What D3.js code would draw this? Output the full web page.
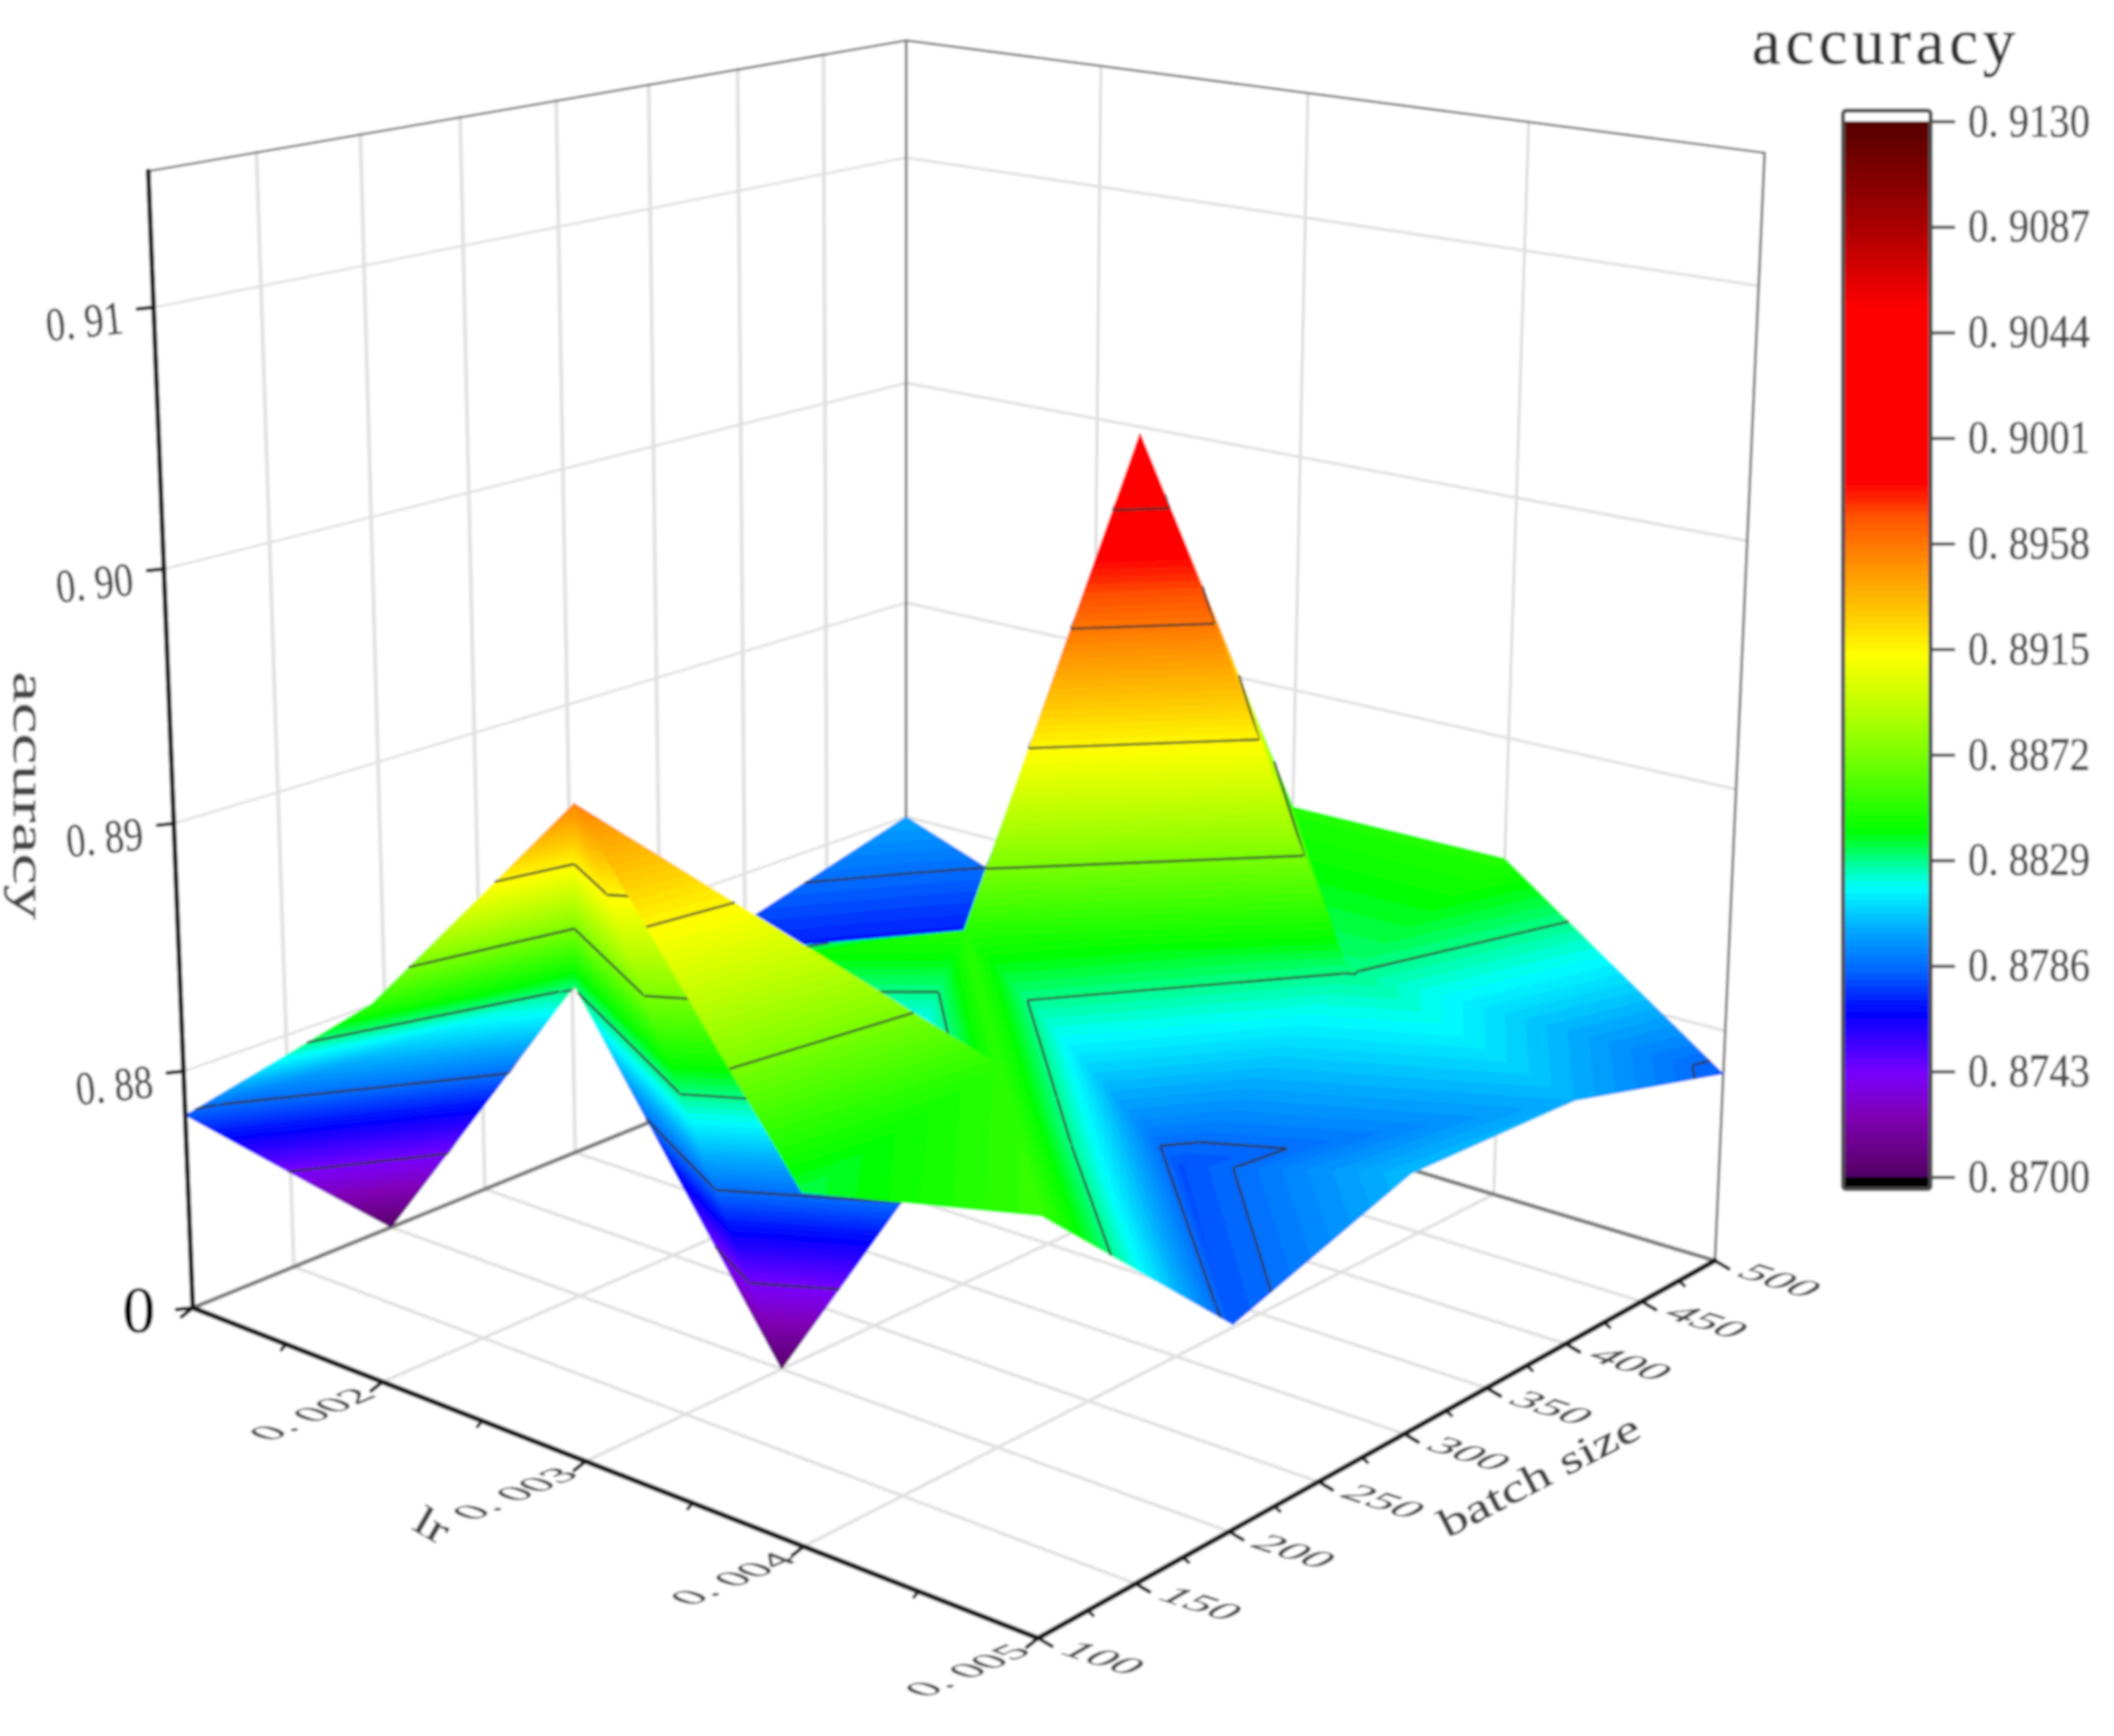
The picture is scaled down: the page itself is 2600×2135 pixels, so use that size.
<!DOCTYPE html>
<html>
<head>
<meta charset="utf-8">
<script src="https://cdn.jsdelivr.net/npm/d3@7/dist/d3.min.js"></script>
<style>html,body{margin:0;padding:0;background:#fff}svg{display:block}</style>
</head>
<body>
<svg id="chart" width="2600" height="2135" viewBox="0 0 2600 2135"></svg>
<script>
// ---------- data ----------
const lrValues = [0.001, 0.002, 0.003, 0.004, 0.005];
const batchValues = [100, 200, 300, 400, 500];
const accLr001 = [0.8782, 0.8702, 0.8780, 0.8778, 0.8800];
const accLr002 = [0.8853, 0.8831, 0.8818, 0.8745, 0.8768];
const accLr003 = [0.8953, 0.8702, 0.8850, 0.9029, 0.8849];
const accLr004 = [0.8835, 0.8851, 0.8780, 0.8830, 0.8849];
const accLr005 = [0.8855, 0.8781, 0.8805, 0.8802, 0.8782];
const accuracy = [accLr001, accLr002, accLr003, accLr004, accLr005];
// mesh diagonal of each grid cell (rows: lr step, columns: batch step); m = main, a = anti
const cellDiagLr = [
  ['m', 'a', 'm', 'a'],
  ['a', 'm', 'a', 'a'],
  ['m', 'a', 'm', 'a'],
  ['a', 'a', 'm', 'm']
];
const lrMajor = [0.001, 0.002, 0.003, 0.004, 0.005];
const lrMinor = [0.0015, 0.0025, 0.0035, 0.0045];
const lrTickLabels = ['', '0. 002', '0. 003', '0. 004', '0. 005'];
const batchMajor = [100, 150, 200, 250, 300, 350, 400, 450, 500];
const batchMinor = [125, 175, 225, 275, 325, 375, 425, 475];
const zMajor = [0.88, 0.89, 0.90, 0.91];
const zTickLabels = ['0. 88', '0. 89', '0. 90', '0. 91'];
const colorbarTicks = [0.8700, 0.8743, 0.8786, 0.8829, 0.8872, 0.8915, 0.8958, 0.9001, 0.9044, 0.9087, 0.9130];
const contourLevels = [0.8743, 0.8786, 0.8829, 0.8872, 0.8915, 0.8958, 0.9001, 0.9044];
const colorStops = [0.8700, 0.8704, 0.8725, 0.8743, 0.8767, 0.8784, 0.8801, 0.8818, 0.8828, 0.8841, 0.8866, 0.8889, 0.8913, 0.8930, 0.8951, 0.8970, 0.8982, 0.9054, 0.9087, 0.9130];
const colorValues = ['#50006a', '#5a006e', '#8000b4', '#7800ff', '#0000ff', '#0064ff', '#00aaff', '#00ffff', '#00ff96', '#00ff00', '#64ff00', '#b4ff00', '#ffff00', '#ffc800', '#ff8c00', '#ff5000', '#ff0000', '#ff0000', '#aa0000', '#550000'];

// ---------- scales ----------
const K = 2600 / 1568;
const lrScale = d3.scaleLinear().domain([0.001, 0.005]).range([0, 1]);
const bsScale = d3.scaleLinear().domain([100, 500]).range([0, 1]);
const zScale = d3.scaleLinear().domain([0.8702, 0.9151]).range([0, 1]);
const color = d3.scaleLinear().domain(colorStops).range(colorValues).clamp(true);

// perspective camera fitted to the cube corners
function project(u, v, t) {
  const w = 1 - 0.1321 * u + 0.1556 * v - 0.059 * t;
  const nudge = (10 * v * (1 - u) + 3 * u * v) * Math.sqrt(Math.max(t, 0));
  return [K * (525.3 * u + 633.6 * v - 39.5 * t + 143) / w,
          K * ((84.5 * u - 97.5 * v - 850.5 * t + 970) / w + nudge)];
}
const at = (lr, bs, z) => project(lrScale(lr), bsScale(bs), zScale(z));

const svg = d3.select('#chart');
const defs = svg.append('defs');
defs.append('filter').attr('id', 'soft').attr('filterUnits', 'userSpaceOnUse')
  .attr('x', 0).attr('y', 0).attr('width', 2600).attr('height', 2135)
  .append('feGaussianBlur').attr('stdDeviation', 1.5);
const root = svg.append('g').attr('filter', 'url(#soft)');
root.append('rect').attr('width', 2600).attr('height', 2135).attr('fill', '#fff');

const Z0 = zScale.domain()[0], Z1 = zScale.domain()[1];
const LR0 = 0.001, LR1 = 0.005, B0 = 100, B1 = 500;
const lineGen = d3.line();
function seg(g, a, b, stroke, width) {
  g.append('path').attr('d', lineGen([a, b])).attr('fill', 'none')
    .attr('stroke', stroke).attr('stroke-width', width).attr('stroke-linecap', 'round');
}

// ---------- grid ----------
const grid = root.append('g');
const gridCol = '#e0e0e0';
batchMajor.slice(1, -1).forEach(b => {
  seg(grid, at(LR0, b, Z0), at(LR0, b, Z1), '#e2e2e2', 5);
  seg(grid, at(LR0, b, Z0), at(LR1, b, Z0), gridCol, 4);
});
lrMajor.slice(1, -1).forEach(l => {
  seg(grid, at(l, B1, Z0), at(l, B1, Z1), '#dcdcdc', 3.5);
  seg(grid, at(l, B0, Z0), at(l, B1, Z0), gridCol, 4);
});
zMajor.forEach(z => {
  seg(grid, at(LR0, B0, z), at(LR0, B1, z), '#e0e0e0', 3);
  seg(grid, at(LR0, B1, z), at(LR1, B1, z), '#e0e0e0', 3.5);
});
// cube frame
seg(grid, at(LR0, B0, Z1), at(LR0, B1, Z1), '#808080', 3);
seg(grid, at(LR0, B1, Z1), at(LR1, B1, Z1), '#808080', 3);
seg(grid, at(LR0, B1, Z0), at(LR0, B1, Z1), '#808080', 3.5);
seg(grid, at(LR1, B1, Z0), at(LR1, B1, Z1), '#808080', 3.5);
seg(grid, at(LR0, B0, Z0), at(LR0, B1, Z0), '#7c7c7c', 5);
seg(grid, at(LR0, B1, Z0), at(LR1, B1, Z0), '#7c7c7c', 5);

// ---------- surface ----------
const nodes = (i, j) => ({ lr: lrValues[i], bs: batchValues[j], z: accuracy[i][j] });
const triangles = [];
d3.range(4).forEach(i => d3.range(4).forEach(j => {
  const a = nodes(i, j), b = nodes(i + 1, j), c = nodes(i + 1, j + 1), d = nodes(i, j + 1);
  if (cellDiagLr[i][j] === 'm') { triangles.push([a, b, c], [a, c, d]); }
  else { triangles.push([a, b, d], [b, c, d]); }
}));
const depth = t => d3.mean(t, p => lrScale(p.lr) - bsScale(p.bs));
triangles.sort((p, q) => d3.ascending(depth(p), depth(q)));

function mix(p, q, r) {
  return { lr: p.lr + (q.lr - p.lr) * r, bs: p.bs + (q.bs - p.bs) * r, z: p.z + (q.z - p.z) * r };
}
function clip(poly, level, keepAbove) {
  const out = [];
  poly.forEach((p, k) => {
    const q = poly[(k + 1) % poly.length];
    const pin = keepAbove ? p.z >= level : p.z <= level;
    const qin = keepAbove ? q.z >= level : q.z <= level;
    if (pin) out.push(p);
    if (pin !== qin) out.push(mix(p, q, (level - p.z) / (q.z - p.z)));
  });
  return out;
}
const bandStep = 0.0043 / 16;
const bandEdges = d3.range(0, 160).map(k => 0.87 + k * bandStep);
const surface = root.append('g');
triangles.forEach(tri => {
  const g = surface.append('g');
  bandEdges.forEach(low => {
    const high = low + bandStep;
    let poly = clip(tri, low, true);
    if (poly.length) poly = clip(poly, high, false);
    if (poly.length < 3) return;
    const c = color(low + bandStep / 2);
    g.append('path').attr('d', lineGen(poly.map(p => at(p.lr, p.bs, p.z))) + 'Z')
      .attr('fill', c).attr('stroke', c).attr('stroke-width', 0.8).attr('stroke-linejoin', 'round');
  });
  contourLevels.forEach(level => {
    const pts = [];
    tri.forEach((p, k) => {
      const q = tri[(k + 1) % 3];
      if ((p.z - level) * (q.z - level) < 0) pts.push(mix(p, q, (level - p.z) / (q.z - p.z)));
    });
    if (pts.length === 2) {
      g.append('path').attr('d', lineGen(pts.map(p => at(p.lr, p.bs, p.z))))
        .attr('fill', 'none').attr('stroke', '#333').attr('stroke-opacity', 0.75)
        .attr('stroke-width', 3.2);
    }
  });
});

// ---------- axes ----------
const axes = root.append('g');
const axisCol = '#161616';
seg(axes, at(LR0, B0, Z0), at(LR0, B0, Z1), axisCol, 6);
seg(axes, at(LR0, B0, Z0), at(LR1, B0, Z0), axisCol, 6.5);
seg(axes, at(LR1, B0, Z0), at(LR1, B1, Z0), axisCol, 6.5);
function tick(p, dx, dy, width) {
  seg(axes, p, [p[0] + dx, p[1] + dy], axisCol, width);
}
lrMajor.forEach(l => tick(at(l, B0, Z0), -14, 11, 4.5));
lrMinor.forEach(l => tick(at(l, B0, Z0), -6, 7, 4));
batchMajor.forEach(b => tick(at(LR1, b, Z0), 17, 10, 4.5));
batchMinor.forEach(b => tick(at(LR1, b, Z0), 7, 6, 4));
zMajor.forEach(z => tick(at(LR0, B0, z), -20, 2, 4.5));
tick(at(LR0, B0, Z0), -20, 2, 4.5);

// ---------- text ----------
const serif = '"Liberation Serif","DejaVu Serif",serif';
const textCol = '#444';
function label(str, x, y, matrix, size, len, fill, adjust) {
  const f = fill || textCol;
  const t = root.append('text')
    .attr('transform', `matrix(${matrix.join(' ')} ${x} ${y})`)
    .attr('text-anchor', 'middle').attr('dominant-baseline', 'middle')
    .attr('font-family', serif).attr('font-size', size).attr('fill', f)
    .attr('stroke', f).attr('stroke-width', 0.7).text(str);
  if (len) t.attr('textLength', len).attr('lengthAdjust', adjust || 'spacingAndGlyphs');
  return t;
}
const rot = deg => {
  const r = deg * Math.PI / 180;
  return [Math.cos(r), Math.sin(r), -Math.sin(r), Math.cos(r)];
};
const lrGlyph = [0.92, -0.39, 0.82, 0.32];
const bsGlyph = [0.95, 0.31, -0.72, 0.41];
lrMajor.forEach((l, k) => {
  if (!lrTickLabels[k]) return;
  const p = at(l, B0, Z0);
  label(lrTickLabels[k], p[0] - 50 * K, p[1] + 25 * K, lrGlyph, 54, 146);
});
batchMajor.forEach(b => {
  const p = at(LR1, b, Z0);
  label(String(b), p[0] + 46 * K, p[1] + 16 * K, bsGlyph, 56, 92);
});
zMajor.forEach((z, k) => {
  const p = at(LR0, B0, z);
  label(zTickLabels[k], p[0] - 51 * K, p[1] + 14 * K, rot(-6), 58, 95);
});
label('0', 103 * K, 977 * K, rot(0), 80, null, '#000');
label('accuracy', 18 * K, 590 * K, rot(90), 58, 305);
label('lr', 319 * K, 1134 * K, rot(30), 50, 42);
label('batch size', 1143 * K, 1097 * K, rot(-27.5), 50, 272);
label('accuracy', 1397 * K, 36 * K, rot(0), 80, 324, '#333', 'spacing');

// ---------- colour bar ----------
const cbY = d3.scaleLinear().domain([0.87, 0.913]).range([873 * K, 90 * K]);
const cbX0 = 1367 * K, cbX1 = 1432 * K;
const cb = root.append('g');
cb.append('rect').attr('x', cbX0).attr('y', 82 * K).attr('width', cbX1 - cbX0).attr('height', 800 * K)
  .attr('fill', '#fff');
bandEdges.forEach(low => {
  const c = color(low + bandStep / 2);
  cb.append('rect').attr('x', cbX0).attr('width', cbX1 - cbX0)
    .attr('y', cbY(low + bandStep)).attr('height', cbY(low) - cbY(low + bandStep) + 0.6)
    .attr('fill', c);
});
cb.append('rect').attr('x', cbX0).attr('y', cbY(0.87)).attr('width', cbX1 - cbX0)
  .attr('height', 882 * K - cbY(0.87)).attr('fill', '#000');
cb.append('rect').attr('x', cbX0).attr('y', 82 * K).attr('width', cbX1 - cbX0).attr('height', 800 * K)
  .attr('fill', 'none').attr('stroke', '#4d4d4d').attr('stroke-width', 5).attr('rx', 4);
const cbAxis = d3.axisRight(cbY).tickValues(colorbarTicks).tickSize(30).tickPadding(16)
  .tickFormat(d => '0. ' + d.toFixed(4).slice(2));
const cbg = root.append('g').attr('transform', `translate(${cbX1},0)`).call(cbAxis);
cbg.select('.domain').remove();
cbg.selectAll('line').attr('stroke', '#4d4d4d').attr('stroke-width', 4);
cbg.selectAll('text').attr('font-family', serif).attr('font-size', 56).attr('fill', '#4c4c4c')
  .attr('stroke', '#4c4c4c').attr('stroke-width', 0.7)
  .attr('textLength', 150).attr('lengthAdjust', 'spacingAndGlyphs');
</script>
</body>
</html>
